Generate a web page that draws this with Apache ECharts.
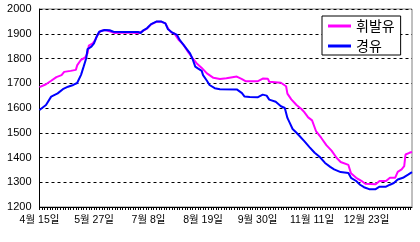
<!DOCTYPE html>
<html>
<head>
<meta charset="utf-8">
<script src="https://cdn.jsdelivr.net/npm/echarts@6/dist/echarts.min.js"></script>
<style>
  html, body { margin: 0; padding: 0; background: #fff; }
  #chart { width: 420px; height: 242px; }
</style>
</head>
<body>
<div id="chart"></div>
<script>
// daily categories from 4/15, one label every 42 days
var startDay = new Date(2008, 3, 15);
var dayCount = 288;
var labelEvery = 42;

var seriesNames = ['휘발유', '경유'];

// 휘발유 (gasoline): day offset / price
var gasDays  = [0, 5, 9, 13, 17, 19, 24, 28, 29, 32, 35, 37, 38, 41, 43, 45, 47, 51, 54, 58, 62, 70, 76, 80, 83, 86, 90, 94, 97, 99,
                101, 104, 107, 111, 114, 118, 121, 125, 129, 134, 139, 144, 152, 156, 159, 168, 172, 176, 177, 186, 190, 191, 194, 198, 202,
                204, 207, 210, 213, 217, 221, 225, 229, 232, 238, 240, 244, 248, 251, 259, 262, 267, 270, 274, 276, 279, 281, 282, 285, 287];
var gasPrice = [1684, 1696, 1710, 1725, 1733, 1746, 1750, 1754, 1772, 1795, 1803, 1821, 1852, 1861, 1875, 1898, 1911, 1915, 1910, 1903,
                1904, 1905, 1902, 1912, 1922, 1938, 1948, 1948, 1942, 1922, 1908, 1900, 1877, 1855, 1830, 1801, 1781, 1762, 1740, 1722,
                1717, 1720, 1727, 1717, 1708, 1708, 1719, 1718, 1706, 1702, 1688, 1658, 1635, 1612, 1595, 1583, 1562, 1550, 1507, 1480,
                1450, 1428, 1398, 1382, 1370, 1336, 1318, 1306, 1294, 1292, 1305, 1305, 1318, 1318, 1342, 1352, 1365, 1412, 1419, 1422];

// 경유 (diesel): day offset / price
var dieselDays  = [0, 5, 9, 14, 18, 22, 26, 29, 32, 34, 36, 37, 40, 42, 44, 46, 50, 54, 57, 66, 76, 78, 80, 83, 86, 90, 94, 97, 99, 102,
                   106, 108, 112, 116, 118, 120, 122, 125, 126, 129, 131, 135, 139, 152, 156, 158, 162, 168, 172, 175, 177, 182, 186, 189,
                   191, 193, 195, 198, 200, 204, 208, 212, 216, 220, 224, 227, 232, 238, 240, 244, 247, 250, 254, 259, 262, 267, 270, 273,
                   276, 280, 284, 287];
var dieselPrice = [1592, 1612, 1646, 1659, 1676, 1686, 1693, 1701, 1734, 1767, 1801, 1838, 1848, 1861, 1888, 1908, 1915, 1914, 1908, 1907,
                   1907, 1903, 1914, 1923, 1939, 1949, 1949, 1942, 1918, 1906, 1895, 1875, 1848, 1821, 1797, 1767, 1760, 1750, 1733, 1710,
                   1693, 1680, 1676, 1675, 1660, 1646, 1644, 1643, 1654, 1650, 1634, 1625, 1607, 1600, 1560, 1538, 1515, 1500, 1489, 1466,
                   1442, 1419, 1402, 1378, 1362, 1352, 1341, 1337, 1318, 1305, 1290, 1280, 1272, 1272, 1282, 1282, 1290, 1297, 1311, 1318,
                   1331, 1341];

var yMin = 1200, yMax = 2000, yStep = 100;

var categories = [];
for (var i = 0; i < dayCount; i++) {
  var d = new Date(startDay.getFullYear(), startDay.getMonth(), startDay.getDate() + i);
  categories.push((d.getMonth() + 1) + '월 ' + d.getDate() + '일');
}

function pairs(days, vals) {
  return days.map(function (d, i) { return [d, vals[i]]; });
}

var chart = echarts.init(document.getElementById('chart'), null, { renderer: 'canvas' });

var option = {
  backgroundColor: '#fff',
  animation: false,
  grid: {
    left: 39.5, top: 9, right: 8, bottom: 35,
    outerBoundsMode: 'none',
    show: true,
    borderColor: '#808080',
    borderWidth: 1
  },
  legend: {
    data: seriesNames,
    orient: 'vertical',
    left: 322, top: 16,
    icon: 'rect',
    itemWidth: 23, itemHeight: 3,
    itemGap: 6,
    padding: [3, 6, 2, 6],
    borderColor: '#000',
    borderWidth: 1,
    backgroundColor: '#fff',
    textStyle: { fontFamily: 'Noto Sans CJK KR', fontSize: 14, color: '#000', lineHeight: 14 }
  },
  xAxis: {
    type: 'category',
    data: categories,
    boundaryGap: false,
    axisLine: { lineStyle: { color: '#000', width: 1 } },
    axisTick: { show: true, interval: 1, length: 3, lineStyle: { color: '#000', width: 1 } },
    axisLabel: {
      interval: labelEvery - 1,
      showMinLabel: true,
      alignMinLabel: 'center',
      hideOverlap: false,
      margin: 8,
      fontSize: 10.5,
      lineHeight: 11,
      color: '#000',
      fontFamily: 'Liberation Sans, Noto Sans CJK KR'
    },
    splitLine: { show: false }
  },
  yAxis: {
    type: 'value',
    min: yMin, max: yMax, interval: yStep,
    axisLine: { show: true, lineStyle: { color: '#000', width: 1 } },
    axisTick: { show: false },
    axisLabel: {
      fontSize: 11, lineHeight: 11, color: '#000', margin: 8, fontFamily: 'Liberation Sans',
      formatter: function (v) { return String(v); }
    },
    splitLine: { lineStyle: { color: '#000', type: [3, 3], width: 1 } }
  },
  series: [
    {
      name: seriesNames[0],
      type: 'line',
      data: pairs(gasDays, gasPrice),
      showSymbol: false,
      itemStyle: { color: '#ff00ff' },
      lineStyle: { color: '#ff00ff', width: 2 }
    },
    {
      name: seriesNames[1],
      type: 'line',
      data: pairs(dieselDays, dieselPrice),
      showSymbol: false,
      itemStyle: { color: '#0000ff' },
      lineStyle: { color: '#0000ff', width: 2 }
    }
  ]
};

chart.setOption(option);
</script>
</body>
</html>
